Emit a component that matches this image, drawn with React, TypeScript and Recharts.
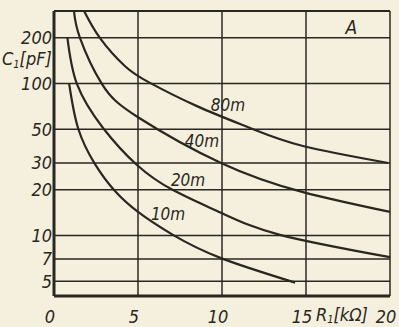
import { LineChart, Line, XAxis, YAxis, CartesianGrid, ReferenceLine, ReferenceDot, Label } from 'recharts'

const INK = '#2a2620'
const PAPER = '#f5f0dd'
const FONT = "'DejaVu Sans Condensed', 'DejaVu Sans', sans-serif"

const xTicks = [0, 5, 10, 15, 20]
const yTicks = [5, 7, 10, 20, 30, 50, 100, 200]

// R1 [kOhm] / C1 [pF]
const r80 = [1.79, 2.74, 4.23, 5.71, 8.51, 11.67, 14.82, 19.9]
const c80 = [300, 199, 130, 101, 71, 51, 38.8, 30]
const r40 = [1.19, 1.55, 2.86, 5.0, 9.94, 14.82, 20]
const c40 = [300, 199, 99, 60, 30, 19.3, 14.3]
const r20 = [0.8, 1.37, 2.92, 4.94, 7.08, 9.94, 13.45, 20]
const c20 = [200, 99, 51, 29.1, 19.9, 14.1, 10.1, 7.2]
const r10 = [0.9, 1.43, 2.44, 3.63, 5.0, 7.08, 9.94, 14.35]
const c10 = [100, 51, 29.5, 19.6, 14.3, 10.1, 7.1, 4.9]

const bands = ['80m', '40m', '20m', '10m']
const bandLabelR = [10.36, 8.81, 7.98, 6.79]
const bandLabelC = [72, 42, 23.2, 13.8]

const toRows = (r: number[], c: number[]) => r.map((v, i) => ({ r: v, c: c[i] }))
const curves = [toRows(r80, c80), toRows(r40, c40), toRows(r20, c20), toRows(r10, c10)]

const tickStyle = { fill: INK, fontSize: 18, fontStyle: 'italic', fontFamily: FONT }

function YTitle() {
  return (
    <text x={2} y={65} fill={INK} fontSize={18} fontStyle="italic" fontFamily={FONT}>
      C<tspan fontSize={11} dy={3}>1</tspan>
      <tspan dy={-3}>[pF]</tspan>
    </text>
  )
}

function XTitle() {
  return (
    <text x={316} y={321} fill={INK} fontSize={18} fontStyle="italic" fontFamily={FONT}>
      R<tspan fontSize={11} dy={2}>1</tspan>
      <tspan dy={-2}>[kΩ]</tspan>
    </text>
  )
}

export default function App() {
  return (
    <div style={{ position: 'absolute', left: 0, top: 0, width: 399, height: 327, background: PAPER }}>
      <LineChart width={399} height={327} margin={{ top: 11, right: 9, bottom: 0, left: 0 }}>
        <CartesianGrid stroke={INK} strokeWidth={1.5} />
        <XAxis
          type="number"
          dataKey="r"
          domain={[0, 20]}
          ticks={xTicks}
          interval={0}
          height={31}
          tickSize={0}
          tickMargin={14}
          tick={{ ...tickStyle, dx: -4 }}
          axisLine={{ stroke: INK, strokeWidth: 3 }}
          allowDuplicatedCategory={false}
        >
          <Label content={XTitle} />
        </XAxis>
        <YAxis
          type="number"
          scale="log"
          domain={[4, 300]}
          allowDataOverflow
          ticks={yTicks}
          interval={0}
          width={54}
          tickSize={0}
          tickMargin={2}
          tick={tickStyle}
          axisLine={{ stroke: INK, strokeWidth: 3 }}
        >
          <Label content={YTitle} />
        </YAxis>
        <ReferenceLine y={300} stroke={INK} strokeWidth={2} />
        {curves.map((rows, i) => (
          <Line
            key={bands[i]}
            data={rows}
            dataKey="c"
            type="natural"
            stroke={INK}
            strokeWidth={2.2}
            dot={false}
            isAnimationActive={false}
          />
        ))}
        {bands.map((b, i) => (
          <ReferenceDot key={b} x={bandLabelR[i]} y={bandLabelC[i]} r={0} fill="none" stroke="none">
            <Label value={b} position="center" fill={INK} fontSize={17} fontStyle="italic" fontFamily={FONT} />
          </ReferenceDot>
        ))}
        <ReferenceDot x={17.7} y={235} r={0} fill="none" stroke="none">
          <Label value="A" position="center" fill={INK} fontSize={19} fontStyle="italic" fontFamily={FONT} />
        </ReferenceDot>
      </LineChart>
    </div>
  )
}
